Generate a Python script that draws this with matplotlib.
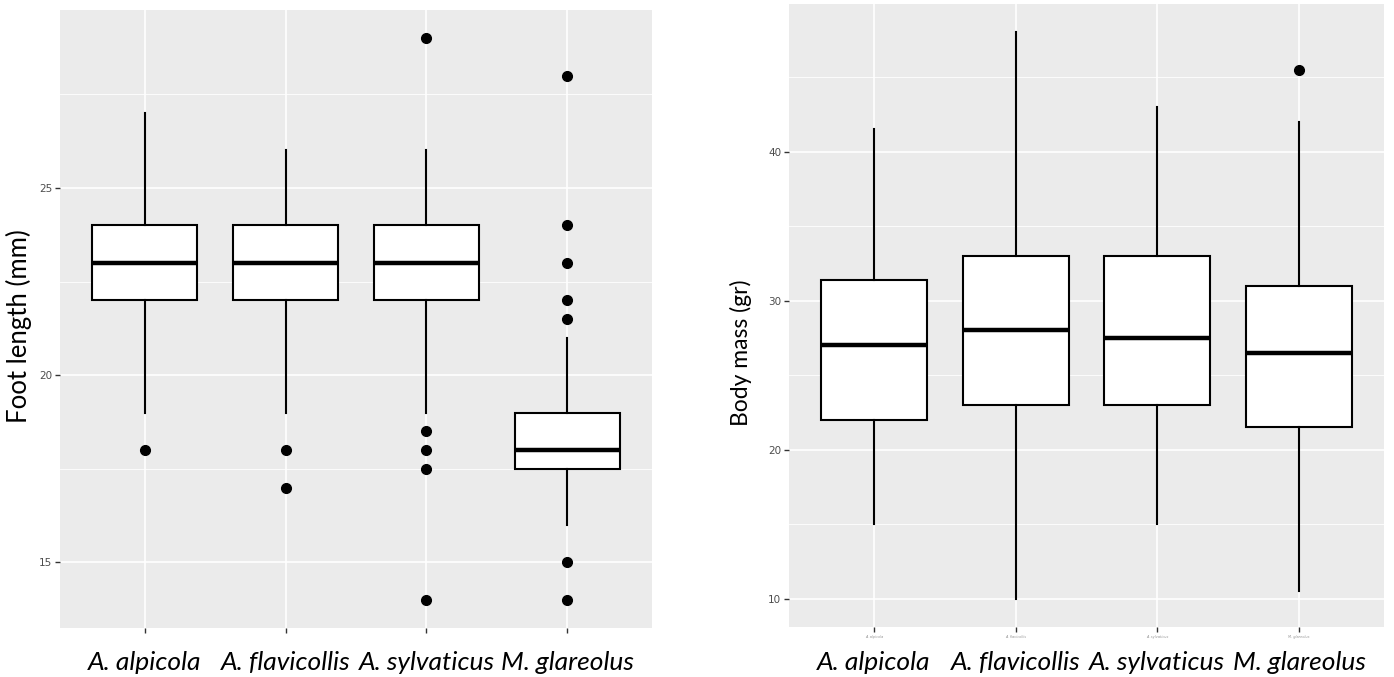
import matplotlib
matplotlib.use("Agg")
import matplotlib.pyplot as plt
import matplotlib.transforms as mtransforms

species = ["A. alpicola", "A. flavicollis", "A. sylvaticus", "M. glareolus"]

# Foot length (mm): whisker low, Q1, median, Q3, whisker high, outliers
foot_wlo = [19, 19, 19, 16]
foot_q1 = [22, 22, 22, 17.5]
foot_med = [23, 23, 23, 18]
foot_q3 = [24, 24, 24, 19]
foot_whi = [27, 26, 26, 21]
foot_out = [[18], [18, 17], [29, 18.5, 18, 17.5, 14], [28, 24, 23, 22, 21.5, 15, 14]]

# Body mass (gr)
mass_wlo = [15, 10, 15, 10.5]
mass_q1 = [22, 23, 23, 21.5]
mass_med = [27, 28, 27.5, 26.5]
mass_q3 = [31.4, 33, 33, 31]
mass_whi = [41.5, 48, 43, 42]
mass_out = [[], [], [], [45.5]]

BG = "#EBEBEB"
GRID = "white"
TXT = "#4D4D4D"


def stats(wlo, q1, med, q3, whi, out):
    res = []
    for i in range(len(wlo)):
        res.append(dict(whislo=wlo[i], q1=q1[i], med=med[i], q3=q3[i],
                        whishi=whi[i], fliers=out[i]))
    return res


def draw(ax, st, ylim, major, minor, ylabel, lab_size, lab_xy, name_y):
    ax.set_facecolor(BG)
    for s in ax.spines.values():
        s.set_visible(False)
    pos = range(1, len(st) + 1)
    ax.bxp(st, positions=pos, widths=0.75, showcaps=False, patch_artist=True,
           boxprops=dict(facecolor="white", edgecolor="black", linewidth=1.5),
           medianprops=dict(color="black", linewidth=3.2, solid_capstyle="butt"),
           whiskerprops=dict(color="black", linewidth=1.5),
           flierprops=dict(marker="o", markerfacecolor="black",
                           markeredgecolor="black", markersize=7))
    ax.set_xlim(0.4, len(st) + 0.6)
    ax.set_ylim(*ylim)
    ax.set_yticks(major)
    ax.set_yticks(minor, minor=True)
    ax.set_xticks(list(pos))
    ax.set_axisbelow(True)
    ax.grid(which="major", color=GRID, linewidth=1.2)
    ax.grid(which="minor", axis="y", color=GRID, linewidth=0.6)
    ax.tick_params(which="major", length=3.5, width=1.0, color="#333333",
                   labelcolor=TXT, labelsize=7.5, pad=2)
    ax.tick_params(which="minor", length=0)
    ax.set_ylabel(ylabel, fontsize=lab_size, family="Lato", color="black")
    ax.yaxis.set_label_coords(*lab_xy)
    tr = mtransforms.blended_transform_factory(ax.transData, ax.transAxes)
    for i, name in enumerate(species):
        ax.text(i + 1, name_y, name, transform=tr, ha="center", va="center",
                fontsize=19, style="italic", family="Lato")


fig = plt.figure(figsize=(13.94, 6.77), dpi=100)
ax1 = fig.add_axes([60 / 1394, 1 - 628 / 677, 592 / 1394, 618 / 677])
ax2 = fig.add_axes([789 / 1394, 1 - 627 / 677, 595 / 1394, 623 / 677])

draw(ax1, stats(foot_wlo, foot_q1, foot_med, foot_q3, foot_whi, foot_out),
     (13.25, 29.75), [15, 20, 25], [17.5, 22.5, 27.5], "Foot length (mm)",
     18.5, (-0.047, 0.488), -0.056)
draw(ax2, stats(mass_wlo, mass_q1, mass_med, mass_q3, mass_whi, mass_out),
     (8.1, 49.9), [10, 20, 30, 40], [15, 25, 35, 45], "Body mass (gr)",
     16.5, (-0.062, 0.44), -0.057)

ax1.set_xticklabels([])
# the original ggplot labels are left tiny under the right panel
ax2.set_xticklabels(species, fontsize=2.5, color="#999999", style="italic")

fig.savefig("out.png", dpi=100)
